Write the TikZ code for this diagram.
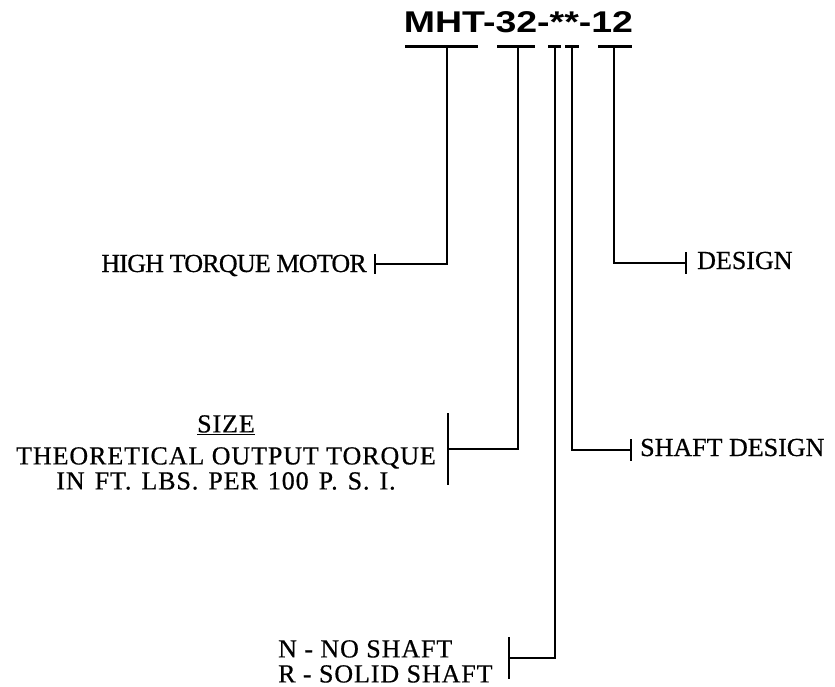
\documentclass[tikz,border=0pt]{standalone}
\usepackage{fontspec}
\setmainfont{Liberation Serif}[FakeBold=0.6]
\newfontfamily\spacedfont{Liberation Serif}[FakeBold=0.6, LetterSpace=3.5]
\newfontfamily\tightfont{Liberation Serif}[FakeBold=0.6, LetterSpace=-3]
\newfontfamily\codefont{Liberation Sans}
\newcommand{\barrow}{47}
\newcommand{\gap}{\hspace{10pt}}
\tikzset{
    lead/.style={line width=2.2pt},
    codebar/.style={line width=3pt},
    caption/.style={inner sep=0pt, font=\fontsize{26}{24}\selectfont},
    spaced/.style={caption, font=\spacedfont\fontsize{26}{24}\selectfont},
    codetext/.style={inner sep=0pt, font=\codefont\bfseries\fontsize{30}{30}\selectfont}
}

\begin{document}
\begin{tikzpicture}[x=1pt, y=-1pt]
    \useasboundingbox (0,0) rectangle (835,687);

    % model code
    \node[codetext, anchor=base, xscale=1.25] (code) at (518.5,33) {MHT-32-**-12};

    % underline bars and the top of each stem
    \draw[codebar] (405,\barrow) -- (478,\barrow);
    \draw[codebar] (497,\barrow) -- (535,\barrow);
    \draw[codebar] (548,\barrow) -- (561,\barrow);
    \draw[codebar] (565,\barrow) -- (579,\barrow);
    \draw[codebar] (598,\barrow) -- (632,\barrow);
    \coordinate (mht)   at (447,\barrow);
    \coordinate (size)  at (518,\barrow);
    \coordinate (shaft) at (555,\barrow);
    \coordinate (sdes)  at (572,\barrow);
    \coordinate (des)   at (614,\barrow);

    % labels
    \node[caption, anchor=base east, font=\tightfont\fontsize{26}{24}\selectfont] (motor) at (367,272) {HIGH TORQUE MOTOR};
    \node[spaced, anchor=north east, align=center] (torque) at (436,415)
        {\underline{SIZE}\\[8pt] THEORETICAL OUTPUT TORQUE\\[1pt] IN\gap FT.\gap LBS.\gap PER\gap 100\gap P.\gap S.\gap I.};
    \node[spaced, anchor=north west, align=left, font=\spacedfont\fontsize{26}{25}\selectfont] (options) at (278,640)
        {N\ -\ NO SHAFT\\ R\ -\ SOLID SHAFT};
    \node[caption, anchor=base west] (shaftdesign) at (640,456) {SHAFT DESIGN};
    \node[caption, anchor=base west] (design) at (697,269) {DESIGN};

    % end ticks
    \coordinate (motortick)  at (375,264);
    \coordinate (torquetick) at (448,449);
    \coordinate (optiontick) at (509,658);
    \coordinate (shafttick)  at (631,450);
    \coordinate (designtick) at (686,263);

    % leaders
    \draw[lead] (mht) |- (motortick);
    \draw[lead] (size) |- (torquetick);
    \draw[lead] (shaft) |- (optiontick);
    \draw[lead] (sdes) |- (shafttick);
    \draw[lead] (des) |- (designtick);

    \draw[lead] ([yshift=10pt]motortick) -- ([yshift=-10pt]motortick);
    \draw[lead] ([yshift=36pt]torquetick) -- ([yshift=-36pt]torquetick);
    \draw[lead] ([yshift=21pt]optiontick) -- ([yshift=-21pt]optiontick);
    \draw[lead] ([yshift=11pt]shafttick) -- ([yshift=-11pt]shafttick);
    \draw[lead] ([yshift=11pt]designtick) -- ([yshift=-11pt]designtick);
\end{tikzpicture}
\end{document}
